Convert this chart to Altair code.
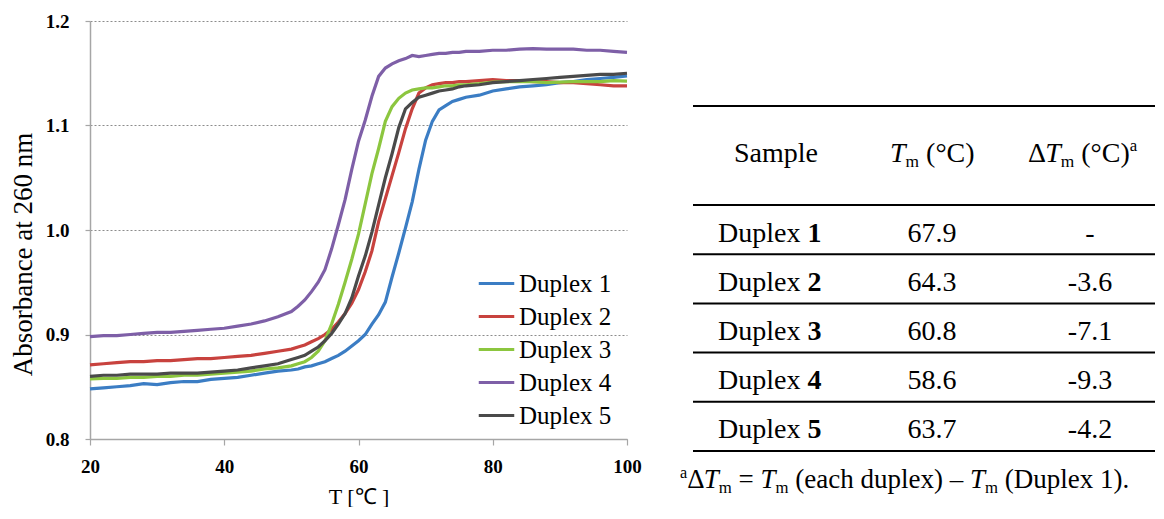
import altair as alt
import pandas as pd

# ---------------- data ----------------
SERIES = ["Duplex 1", "Duplex 2", "Duplex 3", "Duplex 4", "Duplex 5"]
COLORS = ["#3b7dc4", "#c8423e", "#8cc63f", "#7e5fa7", "#4a4a4a"]

TEMPS = [20, 22, 24, 26, 28, 30, 32, 34, 36, 38, 40, 42, 44, 46, 48, 50,
         51, 52, 53, 54, 55, 56, 57, 58, 59, 60, 61, 62, 63, 64, 65, 66, 67, 68, 69, 70, 71, 72, 73, 74, 75,
         76, 78, 80, 82, 84, 86, 88, 90, 92, 94, 96, 98, 100]

ABS_D1 = [0.848, 0.849, 0.850, 0.851, 0.853, 0.852, 0.854, 0.855, 0.855, 0.857, 0.858, 0.859, 0.861, 0.863, 0.865, 0.866,
          0.867, 0.869, 0.870, 0.872, 0.874, 0.877, 0.880, 0.884, 0.889, 0.894, 0.900, 0.910, 0.919, 0.931, 0.955,
          0.978, 1.002, 1.027, 1.058, 1.086, 1.104, 1.115, 1.119, 1.123, 1.125,
          1.127, 1.129, 1.133, 1.135, 1.137, 1.138, 1.139, 1.141, 1.142, 1.144, 1.145, 1.146, 1.1475]
ABS_D2 = [0.871, 0.872, 0.873, 0.874, 0.874, 0.875, 0.875, 0.876, 0.877, 0.877, 0.878, 0.879, 0.880, 0.882, 0.884, 0.886,
          0.888, 0.890, 0.893, 0.896, 0.900, 0.905, 0.912, 0.920, 0.930, 0.943, 0.960, 0.980, 1.008, 1.030, 1.052,
          1.074, 1.097, 1.116, 1.131, 1.136, 1.139, 1.140, 1.141, 1.141, 1.142,
          1.142, 1.143, 1.144, 1.143, 1.143, 1.142, 1.142, 1.141, 1.141, 1.140, 1.139, 1.138, 1.138]
ABS_D3 = [0.8575, 0.858, 0.858, 0.859, 0.859, 0.860, 0.860, 0.861, 0.861, 0.862, 0.863, 0.864, 0.865, 0.867, 0.868, 0.870,
          0.872, 0.874, 0.878, 0.884, 0.894, 0.910, 0.929, 0.950, 0.972, 0.996, 1.025, 1.054, 1.078, 1.104, 1.118,
          1.126, 1.131, 1.134, 1.135, 1.136, 1.136, 1.137, 1.138, 1.138, 1.139,
          1.139, 1.140, 1.1415, 1.142, 1.142, 1.142, 1.141, 1.1415, 1.142, 1.142, 1.142, 1.143, 1.1425]
ABS_D4 = [0.898, 0.899, 0.899, 0.900, 0.901, 0.902, 0.902, 0.903, 0.904, 0.905, 0.906, 0.908, 0.910, 0.913, 0.917, 0.922,
          0.927, 0.933, 0.941, 0.950, 0.962, 0.982, 1.005, 1.029, 1.058, 1.085, 1.105, 1.128, 1.147, 1.155, 1.159,
          1.162, 1.164, 1.167, 1.166, 1.167, 1.168, 1.169, 1.169, 1.170, 1.170,
          1.171, 1.171, 1.172, 1.172, 1.173, 1.1735, 1.173, 1.173, 1.173, 1.172, 1.172, 1.171, 1.170]
ABS_D5 = [0.860, 0.861, 0.861, 0.862, 0.862, 0.862, 0.863, 0.863, 0.863, 0.864, 0.865, 0.866, 0.868, 0.870, 0.872, 0.876,
          0.878, 0.880, 0.884, 0.888, 0.894, 0.901, 0.910, 0.920, 0.935, 0.956, 0.975, 0.998, 1.024, 1.050, 1.073,
          1.098, 1.116, 1.122, 1.127, 1.129, 1.131, 1.133, 1.134, 1.135, 1.137,
          1.138, 1.139, 1.141, 1.142, 1.143, 1.144, 1.145, 1.146, 1.147, 1.148, 1.149, 1.149, 1.150]

X_TICKS = [20, 40, 60, 80, 100]
Y_TICKS = [0.8, 0.9, 1.0, 1.1, 1.2]

TBL_NUMBERS = ["1", "2", "3", "4", "5"]
TBL_TM = ["67.9", "64.3", "60.8", "58.6", "63.7"]
TBL_DTM = ["-", "-3.6", "-7.1", "-9.3", "-4.2"]

SERIF = "Liberation Serif"

# ---------------- melting curves ----------------
rows = []
for name, vals in zip(SERIES, [ABS_D1, ABS_D2, ABS_D3, ABS_D4, ABS_D5]):
    assert len(vals) == len(TEMPS), name
    for t, a in zip(TEMPS, vals):
        rows.append({"series": name, "T": t, "A": a})
curves = pd.DataFrame(rows)

AX_GRAY = "#a6a6a6"
line_chart = alt.Chart(curves).mark_line(strokeWidth=3.2).encode(
    x=alt.X("T:Q", scale=alt.Scale(domain=[20, 100], nice=False, zero=False),
            axis=alt.Axis(values=X_TICKS, title="T [℃ ]", grid=False, labelFlush=False,
                          labelFont=SERIF, labelFontWeight="bold", labelFontSize=19, labelColor="#000",
                          labelPadding=12, tickSize=6, tickColor=AX_GRAY, tickWidth=1.2,
                          domainColor=AX_GRAY, domainWidth=1.5,
                          titleFont=SERIF, titleFontSize=22, titleFontWeight="normal", titleColor="#000",
                          titlePadding=10)),
    y=alt.Y("A:Q", scale=alt.Scale(domain=[0.8, 1.2], nice=False, zero=False),
            axis=alt.Axis(values=Y_TICKS, format=".1f", title="Absorbance at 260 nm",
                          grid=True, gridDash=[2, 2], gridColor="#8c8c8c", gridWidth=1,
                          labelFont=SERIF, labelFontWeight="bold", labelFontSize=19, labelColor="#000",
                          labelPadding=16, tickSize=5, tickColor=AX_GRAY, tickWidth=1.2,
                          domainColor=AX_GRAY, domainWidth=1.5,
                          titleFont=SERIF, titleFontSize=27, titleFontWeight="normal", titleColor="#000",
                          titlePadding=8, titleY=233)),
    color=alt.Color("series:N", scale=alt.Scale(domain=SERIES, range=COLORS),
                    legend=alt.Legend(title=None, orient="none", legendX=387, legendY=243,
                                      symbolType="stroke", symbolSize=1260, symbolStrokeWidth=3.2,
                                      labelFont=SERIF, labelFontSize=25, labelColor="#000",
                                      rowPadding=0, labelOffset=3, padding=0)),
).properties(width=537, height=418)

# ---------------- table (panel-local layout) ----------------
TW, TH = 492, 475
RULE_X0, RULE_X1 = 30, 492
TOP_RULE, HEAD_RULE, ROW_H = 85, 184, 49.2
FS, FN_FS = 28, 27
HEAD_BASE = 140.6
ROW_BASE0 = 220.6
FOOT_BASE = 467
COL_LABEL_X, COL_SAMPLE_C, COL_TM_X, COL_TM_C, COL_DTM_X, COL_DTM_C, FOOT_X = 55, 113, 227, 269, 365, 427, 17

EM = {" ": 0.25, "(": 0.333, ")": 0.333, ".": 0.25, "=": 0.564, "–": 0.5, "-": 0.333,
      "a": 0.444, "c": 0.444, "d": 0.5, "e": 0.444, "h": 0.5, "l": 0.278, "p": 0.5,
      "u": 0.5, "x": 0.5, "D": 0.722, "C": 0.667, "T": 0.611, "m": 0.778, "°": 0.4, "Δ": 0.612}
for d in "0123456789":
    EM[d] = 0.5


def text_width(s, style, size):
    w = 0.0
    for ch in s:
        if style == "i" and ch == "T":
            w += 0.556
        else:
            w += EM.get(ch, 0.5)
    return w * size


def run(parts, x, base, fs):
    """Lay out a run of differently styled text pieces from left to right."""
    out = []
    for text, style in parts:
        if style == "sub":
            size, dy, st = fs * 0.62, fs * 0.2, "n"
        elif style == "sup":
            size, dy, st = fs * 0.6, -fs * 0.38, "n"
        else:
            size, dy, st = fs, 0.0, style
        lead = len(text) - len(text.lstrip(" "))
        shown = text.strip(" ")
        if shown:
            out.append({"x": x + lead * EM[" "] * size, "y": base + dy, "text": shown,
                        "style": st, "size": size})
        x += text_width(text, style, size)
    return out


left_pieces = []
left_pieces += run([("T", "i"), ("m", "sub"), (" (°C)", "n")], COL_TM_X, HEAD_BASE, FS)
left_pieces += run([("Δ", "n"), ("T", "i"), ("m", "sub"), (" (°C)", "n"), ("a", "sup")], COL_DTM_X, HEAD_BASE, FS)
for k, num in enumerate(TBL_NUMBERS):
    left_pieces += run([("Duplex ", "n"), (num, "b")], COL_LABEL_X, ROW_BASE0 + k * ROW_H, FS)
left_pieces += run([("a", "sup"), ("Δ", "n"), ("T", "i"), ("m", "sub"), (" = ", "n"), ("T", "i"), ("m", "sub"),
                    (" (each duplex) – ", "n"), ("T", "i"), ("m", "sub"), (" (Duplex 1).", "n")],
                   FOOT_X, FOOT_BASE, FN_FS)
left_df = pd.DataFrame(left_pieces)

center_pieces = [{"x": COL_SAMPLE_C, "y": HEAD_BASE, "text": "Sample", "size": FS}]
for k, (tm, dtm) in enumerate(zip(TBL_TM, TBL_DTM)):
    center_pieces.append({"x": COL_TM_C, "y": ROW_BASE0 + k * ROW_H, "text": tm, "size": FS})
    center_pieces.append({"x": COL_DTM_C, "y": ROW_BASE0 + k * ROW_H, "text": dtm, "size": FS})
center_df = pd.DataFrame(center_pieces)

rule_ys = [TOP_RULE, HEAD_RULE] + [HEAD_RULE + k * ROW_H for k in range(1, 6)]
rules_df = pd.DataFrame({"x0": RULE_X0, "x1": RULE_X1, "y": rule_ys})

XS = alt.Scale(domain=[0, TW], nice=False, zero=False)
YS = alt.Scale(domain=[0, TH], nice=False, zero=False, reverse=True)

rules = alt.Chart(rules_df).mark_rule(color="#000", strokeWidth=2).encode(
    x=alt.X("x0:Q", scale=XS, axis=None), x2="x1:Q", y=alt.Y("y:Q", scale=YS, axis=None))


def text_layer(data, style, align):
    return alt.Chart(data).transform_filter(alt.datum.style == style).mark_text(
        align=align, baseline="alphabetic", font=SERIF, color="#000",
        fontStyle="italic" if style == "i" else "normal",
        fontWeight="bold" if style == "b" else "normal",
    ).encode(
        x=alt.X("x:Q", scale=XS, axis=None),
        y=alt.Y("y:Q", scale=YS, axis=None),
        text="text:N",
        size=alt.Size("size:Q", scale=None, legend=None),
    )


center_layer = alt.Chart(center_df).mark_text(
    align="center", baseline="alphabetic", font=SERIF, color="#000").encode(
    x=alt.X("x:Q", scale=XS, axis=None),
    y=alt.Y("y:Q", scale=YS, axis=None),
    text="text:N",
    size=alt.Size("size:Q", scale=None, legend=None),
)

table = alt.layer(
    rules,
    text_layer(left_df, "n", "left"),
    text_layer(left_df, "i", "left"),
    text_layer(left_df, "b", "left"),
    center_layer,
).properties(width=TW, height=TH)

chart = alt.hconcat(line_chart, table, spacing=36, bounds="flush").properties(
    padding={"left": 1, "top": 4, "right": 0, "bottom": 0}
).configure_view(strokeWidth=0)

chart.save("out.html", embed_options={"renderer": "svg", "actions": False})
